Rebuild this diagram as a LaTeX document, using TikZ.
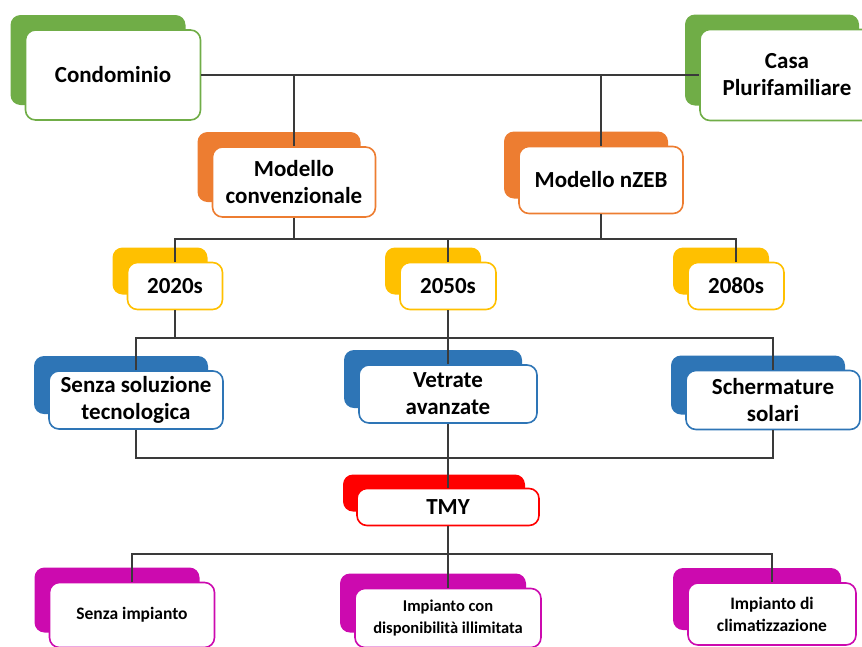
\documentclass[tikz,border=0pt]{standalone}
\usepackage{fontspec}
\setmainfont{Carlito}
\definecolor{cgreen}{HTML}{70AD47}
\definecolor{corange}{HTML}{ED7D31}
\definecolor{cyellow}{HTML}{FFC000}
\definecolor{cblue}{HTML}{2E75B6}
\definecolor{cred}{HTML}{FF0000}
\definecolor{cmag}{HTML}{CC0AAF}
\definecolor{cline}{HTML}{3A3A3A}
\begin{document}
\begin{tikzpicture}[x=1pt,y=-1pt,
    back/.style={fill=#1, rounded corners=10pt, inner sep=0pt},
    card/.style={draw=#1, fill=white, line width=1.6pt, rounded corners=10pt,
      inner sep=0pt, align=center, font=\bfseries\fontsize{23}{27}\selectfont},
    sz/.style 2 args={minimum width=#1, minimum height=#2},
    small/.style={font=\bfseries\fontsize{17.5}{22}\selectfont},
    conn/.style={draw=cline, line width=1.3pt}]
    \path[use as bounding box] (0,0) rectangle (862,646);
    \clip (0,0) rectangle (862,646);
    % backs
    \node[back=cgreen, sz={175pt}{90pt}] (condb) at (98,60) {};
    \node[back=cgreen, sz={174pt}{91pt}] (casab) at (772,60) {};
    \node[back=corange, sz={163pt}{70pt}] (convb) at (279,167) {};
    \node[back=corange, sz={164pt}{67pt}] (nzebb) at (586,165) {};
    \node[back=cyellow, sz={95pt}{47pt}] (y2020b) at (160,271) {};
    \node[back=cyellow, sz={96pt}{47pt}] (y2050b) at (433,271) {};
    \node[back=cyellow, sz={96pt}{47pt}] (y2080b) at (721,271) {};
    \node[back=cblue, sz={174pt}{58pt}] (senzab) at (121,385) {};
    \node[back=cblue, sz={178pt}{58pt}] (vetrb) at (433,379) {};
    \node[back=cblue, sz={174pt}{59pt}] (schermb) at (758,385) {};
    \node[back=cred, sz={182pt}{37pt}] (tmyb) at (434,493) {};
    \node[back=cmag, sz={165pt}{65pt}] (impnob) at (117,600) {};
    \node[back=cmag, sz={186pt}{59pt}] (impconb) at (433,603) {};
    \node[back=cmag, sz={168pt}{62pt}] (impclimb) at (757,599) {};
    % fronts
    \node[card=cgreen, sz={175pt}{90pt}] (cond) at (113,75) {Condominio};
    \node[card=cgreen, sz={174pt}{91pt}] (casa) at (787,75) {Casa\\Plurifamiliare};
    \node[card=corange, sz={163pt}{70pt}] (conv) at (294,182) {Modello\\convenzionale};
    \node[card=corange, sz={164pt}{67pt}] (nzeb) at (601,180) {Modello nZEB};
    \node[card=cyellow, sz={95pt}{47pt}] (y2020) at (175,286) {2020s};
    \node[card=cyellow, sz={96pt}{47pt}] (y2050) at (448,286) {2050s};
    \node[card=cyellow, sz={96pt}{47pt}] (y2080) at (736,286) {2080s};
    \node[card=cblue, sz={174pt}{58pt}] (senza) at (136,400) {Senza soluzione\\tecnologica};
    \node[card=cblue, sz={178pt}{58pt}] (vetr) at (448,394) {Vetrate\\avanzate};
    \node[card=cblue, sz={174pt}{59pt}] (scherm) at (773,400) {Schermature\\solari};
    \node[card=cred, sz={182pt}{37pt}] (tmy) at (448,507) {TMY};
    \node[card=cmag, small, sz={165pt}{65pt}] (impno) at (132,615) {Senza impianto};
    \node[card=cmag, small, font=\bfseries\fontsize{16.5}{22}\selectfont, sz={186pt}{59pt}] (impcon) at (448,618) {Impianto con\\disponibilità illimitata};
    \node[card=cmag, small, sz={168pt}{62pt}] (impclim) at (772,614) {Impianto di\\climatizzazione};
    % bus lines
    \coordinate (bus2) at (0,239);
    \coordinate (bus3) at (0,338);
    \coordinate (bus4) at (0,458);
    \coordinate (bus5) at (0,554);
    \draw[conn] (cond.east) -- (casa.west);
    \draw[conn] (conv.north) -- (conv.north |- cond.east);
    \draw[conn] (nzeb.north) -- (nzeb.north |- cond.east);
    \draw[conn] (conv.south) -- (conv.south |- bus2);
    \draw[conn] (nzeb.south) -- (nzeb.south |- bus2);
    \draw[conn] (y2020.north) |- (y2080.north |- bus2) -- (y2080.north);
    \draw[conn] (y2050.north) -- (y2050.north |- bus2);
    \draw[conn] (y2020.south) -- (y2020.south |- bus3);
    \draw[conn] (y2050.south) -- (y2050.south |- bus3);
    \draw[conn] (senza.north) |- (scherm.north |- bus3) -- (scherm.north);
    \draw[conn] (vetr.north) -- (vetr.north |- bus3);
    \draw[conn] (senza.south) |- (scherm.south |- bus4) -- (scherm.south);
    \draw[conn] (vetr.south) -- (tmy.north);
    \draw[conn] (tmy.south) -- (tmy.south |- bus5);
    \draw[conn] (impno.north) |- (impclim.north |- bus5) -- (impclim.north);
    \draw[conn] (impcon.north) -- (impcon.north |- bus5);
\end{tikzpicture}
\end{document}
